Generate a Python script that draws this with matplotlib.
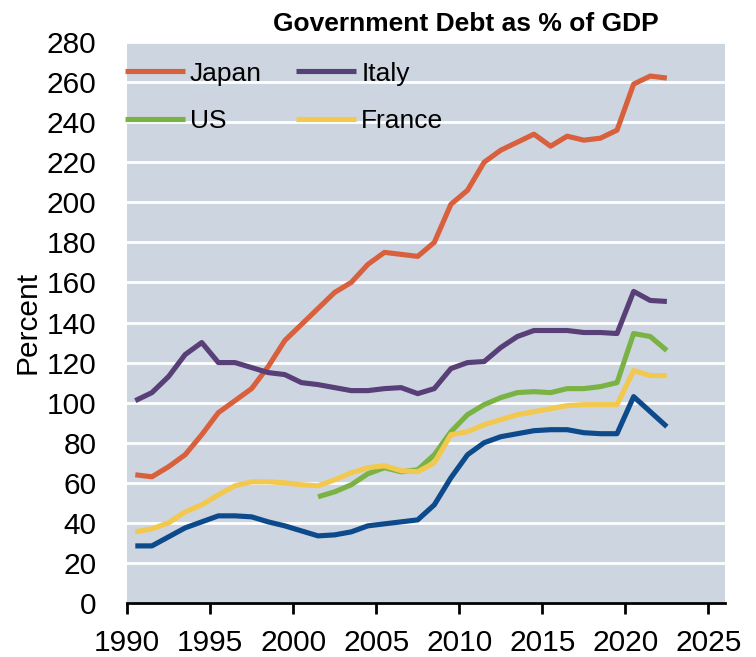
import matplotlib.pyplot as plt

plt.rcParams['font.family'] = ['Liberation Sans', 'DejaVu Sans']
narrow = ['Liberation Sans Narrow', 'Liberation Sans', 'DejaVu Sans']

# data (percent of GDP)
years = list(range(1990, 2023))
japan = [64, 63, 68, 74, 84, 95, 101, 107, 118, 131, 139, 147, 155, 160, 169, 175,
         174, 173, 180, 199, 206, 220, 226, 230, 234, 228, 233, 231, 232, 236, 259, 263, 262]
italy = [101, 105, 113, 124, 130, 120, 120, 117.5, 115, 114, 110, 109, 107.5, 106, 106, 107,
         107.5, 104.5, 107, 117, 120, 120.5, 127.5, 133, 136, 136, 136, 135, 135, 134.5, 155.5, 151, 150.5]
france = [35.5, 37, 40, 45.5, 49, 54, 58.5, 60.5, 60.5, 60, 59, 58.5, 61.5, 65, 67.5, 68.5,
          66, 65.5, 70, 84, 85.5, 89, 91.5, 94, 95.5, 97, 98.5, 99, 99, 99, 116, 113.5, 113.5]
other = [28.5, 28.5, 33, 37.5, 40.5, 43.5, 43.5, 43, 40.5, 38.5, 36, 33.5, 34, 35.5, 38.5, 39.5,
         40.5, 41.5, 49, 62.5, 74, 80, 83, 84.5, 86, 86.5, 86.5, 85, 84.5, 84.5, 103, 95.5, 88]
us_years = list(range(2001, 2023))
us = [53, 55.5, 59, 64.5, 67.5, 65.5, 66.5, 74, 85.5, 94, 99, 102.5, 105, 105.5,
      105, 107, 107, 108, 110, 134.5, 133, 126]

series = [("Japan", years, japan, "#D8603C"),
          ("Italy", years, italy, "#583F78"),
          ("US", us_years, us, "#7AB344"),
          ("France", years, france, "#F2C84E"),
          (None, years, other, "#0D4A8C")]

fig = plt.figure(figsize=(7.56, 6.57), dpi=100)
ax = fig.add_axes([127 / 756, 1 - 603 / 657, 598 / 756, 561 / 657])
ax.set_facecolor("#CDD6E0")

# annual values are drawn at mid-year
lines = {}
for name, xs, ys, col in series:
    ln, = ax.plot([x + 0.5 for x in xs], ys, color=col, lw=3.7,
                  solid_capstyle="butt", solid_joinstyle="round")
    lines[name] = ln

ax.set_xlim(1990, 2026)
ax.set_ylim(0, 280)
ax.set_xticks(range(1990, 2026, 5))
ax.set_yticks(range(0, 281, 20))
ax.yaxis.grid(True, color="white", lw=2)
ax.set_axisbelow(True)

for s in ["top", "right", "left"]:
    ax.spines[s].set_visible(False)
ax.spines["bottom"].set_color("black")
ax.spines["bottom"].set_linewidth(2)

ax.tick_params(axis="x", direction="out", length=8, width=2, pad=11)
ax.tick_params(axis="y", length=0, pad=22)
for lab in ax.get_xticklabels() + ax.get_yticklabels():
    lab.set_family(narrow)
    lab.set_fontsize(21.5)
ax.set_ylabel("Percent", fontsize=21.5, family=narrow, labelpad=4)

# legend is filled column by column: Japan/US, Italy/France
order = ["Japan", "US", "Italy", "France"]
ax.legend([lines[k] for k in order], order, ncol=2, loc="upper left",
          bbox_to_anchor=(-0.004, 0.965), frameon=False, fontsize=19, borderpad=0,
          borderaxespad=0, handlelength=2.27, handletextpad=0.2, columnspacing=1.3,
          labelspacing=0.9)

fig.text(466 / 756, 1 - 24 / 657, "Government Debt as % of GDP", ha="center", va="center",
         fontsize=19, fontweight="bold")

plt.savefig("out.png", dpi=100)
